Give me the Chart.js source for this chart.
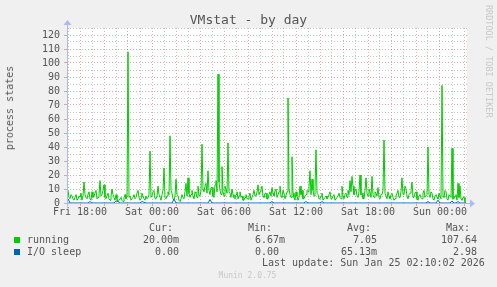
<!DOCTYPE html>
<html>
<head>
<meta charset="utf-8">
<script src="https://cdn.jsdelivr.net/npm/chart.js@4.4.1/dist/chart.umd.min.js"></script>
<style>
body { margin: 0; background: #f0f0f0; }
#wrap { position: relative; width: 497px; height: 287px; background: #f0f0f0; font-family: "DejaVu Sans Mono", monospace; color: #555; overflow: hidden; }
#wrap canvas { position: absolute; left: 0; top: 0; }
.t { position: absolute; font-size: 10px; line-height: 12px; white-space: pre; }
</style>
</head>
<body>
<div id="wrap">
  <canvas id="vmstat" width="497" height="287"></canvas>
</div>
<script>
// hours relative to Fri 18:00; running every 5 min, I/O sleep every 10 min
var startHour = -1;
var xMin = -13 / 12;
var xMax = 32.25;

var tickHours = [0, 6, 12, 18, 24, 30];
var tickLabels = ['Fri 18:00', 'Sat 00:00', 'Sat 06:00', 'Sat 12:00', 'Sat 18:00', 'Sun 00:00'];

var seriesNames = ['running', 'I/O sleep'];
var seriesColors = ['#00cc00', '#0066b3'];

var running = [
  9,4, 3,6, 5,3, 2,4, 6,2, 3,5, 4,7, 2,5, 15,6, 4,3, 6,8, 3,2, 8,4, 5,7, 9,3, 4,6, 16,5, 6,9, 13,4, 3,5,
  7,3, 2,5, 10,6, 4,2, 6,3, 1,2, 3,4, 2,1, 4,6, 3,5, 108,4, 5,2, 3,4, 6,3, 4,7, 9,4, 2,3, 7,5, 3,2, 5,3,
  4,6, 37,4, 5,8, 9,3, 3,5, 12,6, 4,2, 6,9, 25,4, 3,5, 8,6, 48,9, 7,3, 2,5, 17,6, 5,2, 1,3, 6,4, 3,8, 14,5,
  18,7, 4,6, 9,5, 3,8, 7,4, 12,6, 5,9, 42,10, 8,12, 14,7, 23,9, 6,11, 11,5, 4,13, 16,8, 92,15, 9,6, 26,8, 5,12, 10,7,
  43,8, 7,4, 10,6, 4,3, 6,8, 3,5, 8,4, 5,2, 2,4, 6,3, 3,5, 7,2, 4,6, 9,5, 5,8, 13,6, 8,10, 12,5, 4,7, 7,3,
  3,6, 8,5, 11,7, 5,9, 10,4, 6,8, 12,5, 4,9, 7,3, 3,8, 75,10, 6,4, 33,7, 4,2, 8,5, 2,4, 12,6, 9,3, 3,5, 6,9,
  8,12, 23,6, 17,9, 5,11, 38,7, 6,3, 3,5, 7,2, 2,4, 5,3, 4,6, 8,3, 3,5, 6,2, 2,4, 5,7, 4,3, 12,5, 3,6, 7,4,
  9,6, 16,8, 19,12, 6,9, 10,5, 4,8, 20,6, 7,3, 3,9, 18,7, 5,10, 8,4, 19,6, 4,8, 7,5, 11,4, 3,6, 6,9, 45,7, 5,3,
  8,5, 3,6, 7,4, 2,3, 5,7, 9,4, 4,8, 18,6, 6,12, 10,5, 3,6, 7,9, 15,4, 4,7, 8,3, 2,5, 6,4, 3,7, 9,4, 5,6,
  40,6, 4,8, 7,3, 2,5, 6,4, 3,7, 5,3, 84,5, 4,9, 8,3, 2,6, 5,4, 39,3, 3,5, 6,2, 14,4, 12,3, 2,4, 4,1, 0.02
];

var ioSleep = [
  2.98, 0, 0, 0, 0, 0, 0, 0, 0, 0, 0, 1, 0, 0, 0, 0, 0, 0, 0, 0,
  0, 0, 0, 0, 1.5, 1, 0, 0, 0, 0, 0, 0, 0, 0, 0, 0, 0, 1, 0.5, 0,
  0, 0, 0, 0, 0, 0, 0, 0, 0, 0, 0, 0, 0, 2.8, 0, 0, 0, 0, 0, 0,
  0, 0, 0, 0, 0, 0, 0, 0, 0, 0, 0, 2.5, 0, 0, 0, 0, 0, 0, 0, 0,
  0, 0, 0, 0, 0, 0, 0, 0, 0, 0, 0, 0, 0, 0, 0, 0, 0, 0, 0, 0,
  0, 0, 1, 0, 0, 0, 0, 0, 0, 0, 0, 0, 0, 0, 0, 0, 0, 0, 0, 1,
  0, 0, 0, 0, 0, 0, 0, 1, 0, 0, 0, 0, 0, 0, 0, 0, 0, 0, 0, 0,
  0, 0, 0, 0, 0, 0, 0, 0, 0, 0, 0, 0, 0, 0, 0, 0, 0, 0, 0, 0,
  0, 0, 0, 0, 0, 0, 0, 0, 0, 0, 0, 0, 0, 0, 0, 0, 0, 0, 0, 0,
  1, 0, 0, 0, 0, 2, 0, 0, 0, 0, 0, 0, 1.5, 0, 0, 1, 0, 0, 0, 0
];

var statHeads = ['Cur:', 'Min:', 'Avg:', 'Max:'];
var curText = ['20.00m', '0.00'];
var minText = ['6.67m', '0.00'];
var avgText = ['7.05', '65.13m'];
var maxText = ['107.64', '2.98'];
var lastUpdate = 'Last update: Sun Jan 25 02:10:02 2026';

function toPoints(arr, step) {
  return arr.map(function(v, i) { return { x: startHour + i * step, y: v }; });
}

var wrap = document.getElementById('wrap');
function addText(txt, css) {
  var d = document.createElement('div');
  d.className = 't';
  d.textContent = txt;
  for (var k in css) d.style[k] = css[k];
  wrap.appendChild(d);
  return d;
}

// title, axis title, watermark
addText('VMstat - by day', { left: '0px', width: '497px', textAlign: 'center', top: '12px', fontSize: '13px', lineHeight: '15px' });
addText('process states', { left: '10px', top: '108px', transform: 'translate(-50%,-50%) rotate(-90deg)' });
addText('RRDTOOL / TOBI OETIKER', { left: '493px', top: '5px', fontSize: '8.5px', lineHeight: '9px', color: '#c8c8c8', transform: 'rotate(90deg)', transformOrigin: '0 0' });

// legend table
var colRight = [179, null, 377, 477];
var headRight = [173, 272, 371, 470];
statHeads.forEach(function(h, i) {
  addText(h, { right: (497 - headRight[i]) + 'px', top: '222px' });
});
var cols = [curText, minText, avgText, maxText];
seriesNames.forEach(function(name, r) {
  var top = 234 + r * 12;
  var sw = document.createElement('div');
  sw.style.cssText = 'position:absolute;left:14px;top:' + (top + 3) + 'px;width:6px;height:6px;background:' + seriesColors[r];
  wrap.appendChild(sw);
  addText(name, { left: '27px', top: top + 'px' });
  cols.forEach(function(col, c) {
    if (c === 1) addText(col[r], { left: '255px', top: top + 'px' });
    else addText(col[r], { right: (497 - colRight[c]) + 'px', top: top + 'px' });
  });
});
addText(lastUpdate, { left: '262px', top: '257px' });
addText('Munin 2.0.75', { left: '0px', width: '495px', textAlign: 'center', top: '271px', fontSize: '8px', lineHeight: '10px', color: '#c8c8c8' });

var minorGrid = 'rgba(150,150,150,0.55)';
var majorGrid = 'rgba(215,110,110,0.6)';
var axisColor = '#aabbf0';

var plotDecor = {
  id: 'plotDecor',
  beforeDraw: function(chart) {
    var a = chart.chartArea, c = chart.ctx;
    c.save();
    c.fillStyle = '#ffffff';
    c.fillRect(a.left, a.top, a.right - a.left, a.bottom - a.top);
    c.restore();
  },
  afterDatasetsDraw: function(chart) {
    var a = chart.chartArea, c = chart.ctx;
    var y0 = Math.round(chart.scales.y.getPixelForValue(0)) + 0.5;
    var x0 = Math.round(chart.scales.x.left) + 0.5;
    c.save();
    c.strokeStyle = axisColor;
    c.fillStyle = axisColor;
    c.lineWidth = 1;
    c.beginPath();
    c.moveTo(x0 - 3, y0); c.lineTo(a.right + 4, y0);
    c.moveTo(x0, y0 + 3); c.lineTo(x0, a.top - 4);
    c.stroke();
    c.beginPath();
    c.moveTo(a.right + 3, y0 - 4); c.lineTo(a.right + 8, y0); c.lineTo(a.right + 3, y0 + 4); c.closePath();
    c.fill();
    c.beginPath();
    c.moveTo(x0 - 4, a.top - 3); c.lineTo(x0, a.top - 8); c.lineTo(x0 + 4, a.top - 3); c.closePath();
    c.fill();
    c.restore();
  }
};

var tickFont = { family: 'DejaVu Sans Mono', size: 10 };

new Chart(document.getElementById('vmstat').getContext('2d'), {
  type: 'line',
  data: {
    datasets: [{
      label: seriesNames[0],
      data: toPoints(running, 1 / 12),
      borderColor: seriesColors[0],
      borderWidth: 1,
      pointRadius: 0,
      fill: false,
      order: 1
    }, {
      label: seriesNames[1],
      data: toPoints(ioSleep, 1 / 6),
      borderColor: seriesColors[1],
      borderWidth: 1,
      pointRadius: 0,
      fill: false,
      order: 0
    }]
  },
  options: {
    responsive: false,
    animation: false,
    devicePixelRatio: 1,
    layout: { padding: { left: 0, top: 28, right: 30, bottom: 64 } },
    plugins: { legend: { display: false }, tooltip: { enabled: false } },
    scales: {
      x: {
        type: 'linear',
        min: xMin,
        max: xMax,
        afterFit: function(s) { s.height = 20; },
        ticks: {
          stepSize: 1,
          includeBounds: false,
          autoSkip: false,
          maxRotation: 0,
          padding: 0,
          font: tickFont,
          color: '#555',
          callback: function(v) {
            var k = tickHours.indexOf(Math.round(v));
            return k >= 0 ? tickLabels[k] : '';
          }
        },
        grid: {
          drawTicks: true,
          tickLength: 3,
          lineWidth: 1,
          tickColor: function(ctx) {
            return Math.round(ctx.tick.value) % 2 === 0 ? majorGrid : 'rgba(0,0,0,0)';
          },
          color: function(ctx) {
            var v = Math.round(ctx.tick.value);
            return v % 2 === 0 ? majorGrid : minorGrid;
          }
        },
        border: { display: false, dash: [1, 2] }
      },
      y: {
        min: 0,
        max: 125,
        afterFit: function(s) { s.width = 67; },
        ticks: {
          stepSize: 5,
          autoSkip: false,
          padding: 4,
          font: tickFont,
          color: '#555',
          callback: function(v) { return v % 10 === 0 ? String(v) : ''; }
        },
        grid: {
          drawTicks: true,
          tickLength: 3,
          lineWidth: 1,
          tickColor: function(ctx) { return ctx.tick.value % 10 === 0 ? majorGrid : 'rgba(0,0,0,0)'; },
          color: function(ctx) { return ctx.tick.value % 10 === 0 ? majorGrid : minorGrid; }
        },
        border: { display: false, dash: [1, 2] }
      }
    }
  },
  plugins: [plotDecor]
});
</script>
</body>
</html>
